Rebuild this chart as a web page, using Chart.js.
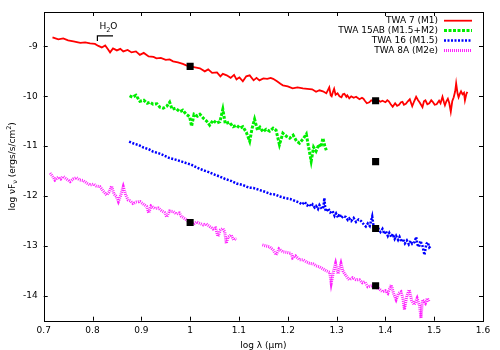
<!DOCTYPE html>
<html>
<head>
<meta charset="utf-8">
<script src="https://cdn.jsdelivr.net/npm/chart.js@4/dist/chart.umd.min.js"></script>
<style>
html,body{margin:0;padding:0;background:#fff;}
#wrap{width:500px;height:350px;position:relative;}
</style>
</head>
<body>
<div id="wrap"><canvas id="c" width="500" height="350"></canvas></div>
<script>
// ---------- data ----------
const seriesLabels = ['TWA 7 (M1)', 'TWA 15AB (M1.5+M2)', 'TWA 16 (M1.5)', 'TWA 8A (M2e)'];

const twa7X = [0.718,0.73,0.74,0.75,0.761,0.775,0.785,0.795,0.805,0.812,0.819,0.826,0.832,0.836,0.842,0.85,0.857,0.863,0.872,0.88,0.889,0.897,0.905,0.915,0.925,0.931,0.94,0.95,0.958,0.965,0.975,0.985,0.992,1.0,1.01,1.02,1.03,1.037,1.045,1.055,1.062,1.067,1.075,1.083,1.09,1.095,1.101,1.108,1.115,1.122,1.13,1.136,1.142,1.15,1.158,1.165,1.17,1.178,1.185,1.19,1.2,1.21,1.22,1.231,1.24,1.25,1.258,1.265,1.272,
  1.279,1.282,1.285,1.288,1.29,1.293,1.295,1.298,1.302,1.306,1.31,1.313,1.316,1.32,1.322,1.326,1.33,1.335,1.34,1.347,1.352,1.355,1.358,1.362,1.367,1.371,1.375,1.38,1.385,1.39,1.394,1.4,1.404,1.407,1.411,1.415,1.42,1.424,1.428,1.432,1.435,1.438,1.442,1.446,1.45,1.455,1.459,1.463,1.467,1.47,1.476,1.479,1.482,1.486,1.49,1.494,1.497,1.501,1.505,1.51,1.513,1.517,1.52,1.522,1.525,1.528,1.531,1.534,1.537,1.54,1.543,1.545,1.548,1.55,1.553,1.555,1.558,1.561,1.563,1.566,1.568];
const twa7Y = [-8.82,-8.86,-8.84,-8.88,-8.9,-8.93,-8.92,-8.94,-8.95,-8.99,-9.02,-8.98,-9.06,-9.12,-9.04,-9.08,-9.05,-9.1,-9.07,-9.12,-9.1,-9.17,-9.13,-9.2,-9.21,-9.24,-9.23,-9.27,-9.26,-9.3,-9.32,-9.35,-9.38,-9.4,-9.42,-9.44,-9.5,-9.46,-9.53,-9.52,-9.6,-9.55,-9.58,-9.63,-9.57,-9.66,-9.62,-9.7,-9.6,-9.58,-9.68,-9.63,-9.68,-9.64,-9.65,-9.63,-9.65,-9.7,-9.75,-9.78,-9.8,-9.84,-9.82,-9.84,-9.85,-9.86,-9.91,-9.88,-9.9,
  -9.94,-9.88,-9.82,-9.98,-10.0,-9.9,-9.85,-9.97,-9.94,-10.0,-10.02,-9.96,-9.95,-10.01,-9.98,-10.04,-10.0,-10.03,-10.01,-10.06,-10.03,-10.05,-10.09,-10.14,-10.12,-10.08,-10.1,-10.1,-10.08,-10.11,-10.09,-10.12,-10.08,-10.1,-10.16,-10.21,-10.14,-10.19,-10.17,-10.12,-10.11,-10.17,-10.15,-10.1,-10.06,-10.2,-10.1,-10.01,-10.08,-10.12,-10.22,-10.1,-10.08,-10.16,-10.14,-10.08,-10.11,-10.17,-10.16,-10.09,-10.14,-10.01,-10.12,-10.18,-10.1,-10.05,-10.14,-10.31,-10.1,-10.02,-9.9,-9.74,-9.95,-10.02,-9.94,-9.9,-9.96,-9.93,-10.08,-9.95,-9.91];

const twa15X = [0.876,0.882,0.889,0.897,0.905,0.912,0.918,0.924,0.932,0.938,0.945,0.952,0.958,0.963,0.97,0.979,0.985,0.992,0.999,1.003,1.008,1.015,1.02,1.028,1.034,1.04,1.047,1.054,1.061,1.067,1.072,1.08,1.088,1.095,1.102,1.108,1.115,1.122,1.127,1.132,1.138,1.143,1.149,1.156,1.163,1.17,1.176,1.183,1.19,1.197,1.204,1.211,1.218,1.224,1.231,1.238,1.242,1.248,1.253,1.258,1.264,1.268,1.272,1.276,1.279];
const twa15Y = [-9.99,-10.02,-9.98,-10.1,-10.08,-10.14,-10.12,-10.16,-10.15,-10.22,-10.24,-10.2,-10.12,-10.26,-10.24,-10.31,-10.28,-10.36,-10.41,-10.6,-10.36,-10.4,-10.36,-10.45,-10.5,-10.58,-10.48,-10.54,-10.51,-10.26,-10.55,-10.52,-10.61,-10.58,-10.64,-10.61,-10.72,-10.9,-10.64,-10.46,-10.68,-10.62,-10.71,-10.66,-10.7,-10.64,-10.68,-10.97,-10.74,-10.8,-10.84,-10.78,-10.9,-10.94,-10.86,-10.76,-10.98,-11.3,-11.02,-11.1,-10.96,-11.02,-10.84,-11.0,-11.08];

const twa16X = [0.875,0.885,0.895,0.905,0.915,0.924,0.935,0.945,0.958,0.97,0.98,0.992,1.002,1.014,1.026,1.038,1.05,1.061,1.072,1.085,1.095,1.108,1.12,1.13,1.142,1.155,1.165,1.175,1.183,1.195,1.205,1.215,
  1.224,1.229,1.235,1.24,1.244,1.248,1.251,1.255,1.258,1.262,1.265,1.27,1.273,1.275,1.277,1.279,1.283,1.287,1.292,1.296,1.299,1.303,1.306,1.31,1.314,1.319,1.323,1.326,1.33,1.335,1.34,1.345,1.35,1.355,1.36,1.364,1.368,1.373,1.376,1.38,1.385,1.39,1.394,1.398,1.401,1.405,1.408,1.412,1.415,1.419,1.422,1.426,1.429,1.433,1.436,1.44,1.444,1.448,1.452,1.455,1.46,1.463,1.466,1.469,1.472,1.476,1.48,1.484,1.487,1.49,1.493];
const twa16Y = [-10.91,-10.95,-10.98,-11.03,-11.06,-11.11,-11.14,-11.18,-11.24,-11.27,-11.3,-11.34,-11.37,-11.43,-11.48,-11.52,-11.57,-11.61,-11.66,-11.7,-11.75,-11.78,-11.83,-11.84,-11.88,-11.92,-11.96,-11.97,-12.01,-12.04,-12.06,-12.1,
  -12.13,-12.17,-12.12,-12.19,-12.16,-12.21,-12.17,-12.23,-12.2,-12.26,-12.18,-12.26,-12.22,-12.04,-12.27,-12.31,-12.25,-12.33,-12.3,-12.4,-12.35,-12.43,-12.36,-12.44,-12.4,-12.42,-12.48,-12.45,-12.5,-12.44,-12.52,-12.47,-12.5,-12.56,-12.61,-12.55,-12.6,-12.41,-12.62,-12.68,-12.64,-12.72,-12.66,-12.76,-12.7,-12.8,-12.74,-12.82,-12.76,-12.86,-12.8,-12.88,-12.82,-12.92,-12.86,-12.95,-12.89,-12.97,-12.9,-12.96,-12.92,-12.82,-12.98,-13.02,-12.9,-13.0,-13.18,-12.96,-12.93,-13.03,-13.0];

// null marks the gap between the two observed bands
const twa8X = [0.713,0.718,0.723,0.73,0.735,0.74,0.747,0.754,0.76,0.767,0.774,0.781,0.788,0.795,0.802,0.808,0.815,0.822,0.829,0.834,0.839,0.844,0.849,0.853,0.858,0.863,0.868,0.873,0.878,0.883,0.89,0.897,0.904,0.911,0.915,0.92,0.928,0.935,0.942,0.948,0.952,0.958,0.965,0.972,0.978,0.982,0.99,0.999,1.006,1.013,1.02,1.027,1.033,1.04,1.047,1.052,1.057,1.062,1.067,1.071,1.074,1.078,1.084,1.089,1.095,1.12,1.148,1.155,1.163,1.17,1.176,1.182,1.19,1.198,1.207,1.21,1.216,1.224,1.232,1.238,1.245,1.252,1.258,1.265,1.272,1.279,1.286,1.289,1.294,1.298,1.303,1.309,1.313,1.316,1.321,1.326,1.333,1.34,1.347,1.353,1.358,1.364,1.372,1.38,1.387,1.394,1.4,1.405,1.412,1.417,1.422,1.427,1.432,1.436,1.439,1.444,1.449,1.454,1.459,1.465,1.47,1.473,1.476,1.482,1.486,1.49];
const twa8Y = [-11.54,-11.6,-11.68,-11.62,-11.66,-11.61,-11.66,-11.71,-11.66,-11.63,-11.68,-11.69,-11.74,-11.78,-11.76,-11.8,-11.81,-11.9,-11.98,-11.92,-11.8,-11.96,-12.01,-12.11,-11.98,-11.81,-11.98,-12.08,-12.1,-12.15,-12.12,-12.11,-12.16,-12.21,-12.34,-12.2,-12.25,-12.24,-12.3,-12.33,-12.42,-12.3,-12.31,-12.36,-12.34,-12.41,-12.46,-12.53,-12.57,-12.52,-12.55,-12.58,-12.56,-12.61,-12.66,-12.64,-12.81,-12.68,-12.65,-12.72,-12.95,-12.82,-12.78,-12.88,-12.85,null,-12.98,-13.0,-13.02,-13.08,-13.18,-13.06,-13.12,-13.13,-13.15,-13.24,-13.2,-13.28,-13.28,-13.32,-13.35,-13.36,-13.4,-13.42,-13.46,-13.5,-13.53,-13.75,-13.5,-13.35,-13.56,-13.35,-13.5,-13.55,-13.62,-13.68,-13.64,-13.68,-13.68,-13.74,-13.72,-13.82,-13.8,-13.83,-13.86,-13.92,-13.9,-13.95,-13.78,-13.96,-14.08,-13.95,-13.92,-14.05,-14.28,-14.0,-13.88,-14.1,-14.18,-14.05,-14.2,-14.45,-14.08,-14.15,-14.05,-14.12];

const photX = [1.0, 1.38, 1.38, 1.0, 1.38, 1.38];
const photY = [-9.40, -10.09, -11.31, -12.53, -12.65, -13.80];

const xTickValues = [0.7,0.8,0.9,1.0,1.1,1.2,1.3,1.4,1.5,1.6];
const xTickLabels = ['0.7','0.8','0.9','1','1.1','1.2','1.3','1.4','1.5','1.6'];
const yTickValues = [-9,-10,-11,-12,-13,-14];
const yTickLabels = ['-9','-10','-11','-12','-13','-14'];

// H2O band marker (data units)
const h2oStart = 0.81, h2oEnd = 0.842, h2oLevel = -8.79, h2oFoot = -8.89, h2oTextY = -8.655;

// ---------- helpers ----------
function pts(xs, ys){ return xs.map((x,i)=>({x:x, y:ys[i]})); }
const FONT = '"DejaVu Sans", "Liberation Sans", Arial, sans-serif';

const styles = [
  {color:'#ff0000', width:1.8, dash:[]},
  {color:'#00ee00', width:3, dash:[3,1.5]},
  {color:'#0000ff', width:2.5, dash:[2,1.5]},
  {color:'#ff22ff', width:3, dash:[1,1]}
];
const seriesData = [pts(twa7X,twa7Y), pts(twa15X,twa15Y), pts(twa16X,twa16Y), pts(twa8X,twa8Y)];

const datasets = seriesData.map((d,i)=>({
  label: seriesLabels[i],
  data: d,
  showLine: true,
  spanGaps: false,
  borderColor: styles[i].color,
  backgroundColor: styles[i].color,
  borderWidth: styles[i].width,
  borderDash: styles[i].dash,
  pointRadius: 0,
  pointHoverRadius: 0,
  tension: 0,
  order: 4 - i
}));
datasets.push({
  label: '',
  data: pts(photX, photY),
  showLine: false,
  pointStyle: 'rect',
  pointRadius: 5,
  backgroundColor: '#000',
  borderColor: '#000',
  borderWidth: 0,
  order: -1
});

// ---------- custom drawing ----------
const decor = {
  id: 'decor',
  afterDraw(chart){
    const ctx = chart.ctx, a = chart.chartArea;
    const xs = chart.scales.x, ys = chart.scales.y;
    ctx.save();
    // frame
    ctx.strokeStyle = '#000'; ctx.lineWidth = 1;
    ctx.strokeRect(Math.round(a.left)+0.5, Math.round(a.top)+0.5, Math.round(a.right-a.left), Math.round(a.bottom-a.top));
    // inward ticks on all sides
    const tl = 4;
    ctx.beginPath();
    xTickValues.forEach(v=>{
      const px = Math.round(xs.getPixelForValue(v))+0.5;
      ctx.moveTo(px, a.bottom); ctx.lineTo(px, a.bottom - tl);
      ctx.moveTo(px, a.top); ctx.lineTo(px, a.top + tl);
    });
    yTickValues.forEach(v=>{
      const py = Math.round(ys.getPixelForValue(v))+0.5;
      ctx.moveTo(a.left, py); ctx.lineTo(a.left + tl, py);
      ctx.moveTo(a.right, py); ctx.lineTo(a.right - tl, py);
    });
    ctx.stroke();

    // legend
    ctx.font = '9px ' + FONT;
    ctx.textAlign = 'right'; ctx.textBaseline = 'middle';
    seriesLabels.forEach((lab,i)=>{
      const yy = a.top + 8.7 + i*9.9;
      ctx.fillStyle = '#000';
      ctx.fillText(lab, a.right - 45, yy);
      ctx.save();
      ctx.strokeStyle = styles[i].color; ctx.lineWidth = styles[i].width;
      ctx.setLineDash(styles[i].dash);
      ctx.beginPath(); ctx.moveTo(a.right - 39, yy); ctx.lineTo(a.right - 11, yy); ctx.stroke();
      ctx.restore();
    });

    // H2O marker
    const bx0 = xs.getPixelForValue(h2oStart), bx1 = xs.getPixelForValue(h2oEnd);
    const by = ys.getPixelForValue(h2oLevel), byf = ys.getPixelForValue(h2oFoot);
    ctx.strokeStyle = '#000'; ctx.lineWidth = 1.2; ctx.setLineDash([]);
    ctx.beginPath(); ctx.moveTo(bx0, byf); ctx.lineTo(bx0, by); ctx.lineTo(bx1, by); ctx.stroke();
    const ty = ys.getPixelForValue(h2oTextY);
    let tx = bx0 + 2;
    ctx.textAlign = 'left'; ctx.textBaseline = 'alphabetic'; ctx.fillStyle = '#000';
    ctx.font = '9px ' + FONT; ctx.fillText('H', tx, ty); tx += ctx.measureText('H').width;
    ctx.font = '6.5px ' + FONT; ctx.fillText('2', tx, ty + 2.5); tx += ctx.measureText('2').width;
    ctx.font = '9px ' + FONT; ctx.fillText('O', tx, ty);

    // x axis title
    ctx.font = '9px ' + FONT; ctx.textAlign = 'center'; ctx.textBaseline = 'alphabetic';
    ctx.fillText('log \u03BB (\u00B5m)', (a.left + a.right)/2, 348);

    // y axis title (rotated, with sub/superscripts)
    const parts = [
      {t:'log \u03BDF', s:9, dy:0},
      {t:'\u03BD', s:6.5, dy:2.5},
      {t:' (ergs/s/cm', s:9, dy:0},
      {t:'2', s:6.5, dy:-4},
      {t:')', s:9, dy:0}
    ];
    let total = 0;
    parts.forEach(p=>{ ctx.font = p.s + 'px ' + FONT; p.w = ctx.measureText(p.t).width; total += p.w; });
    ctx.translate(14.5, (a.top + a.bottom)/2);
    ctx.rotate(-Math.PI/2);
    ctx.textAlign = 'left';
    let cx = -total/2;
    parts.forEach(p=>{ ctx.font = p.s + 'px ' + FONT; ctx.fillText(p.t, cx, p.dy); cx += p.w; });
    ctx.restore();
  }
};

new Chart(document.getElementById('c'), {
  type: 'scatter',
  data: { datasets: datasets },
  options: {
    responsive: false,
    animation: false,
    devicePixelRatio: 1,
    layout: { padding: { left: 0, top: 12, right: 17, bottom: 0 } },
    plugins: { legend: { display: false }, tooltip: { enabled: false } },
    scales: {
      x: {
        type: 'linear', min: 0.7, max: 1.6,
        afterBuildTicks: s => { s.ticks = xTickValues.map(v=>({value:v})); },
        afterFit: s => { s.height = 29.3; },
        grid: { display: false, drawTicks: false },
        border: { display: false },
        ticks: {
          padding: 5, color: '#000', font: { family: FONT, size: 9 },
          maxRotation: 0, autoSkip: false,
          callback: (v, i) => xTickLabels[i]
        }
      },
      y: {
        type: 'linear', min: -14.5, max: -8.31,
        afterBuildTicks: s => { s.ticks = yTickValues.map(v=>({value:v})); },
        afterFit: s => { s.width = 43.7; },
        grid: { display: false, drawTicks: false },
        border: { display: false },
        ticks: {
          padding: 6, color: '#000', font: { family: FONT, size: 9 },
          autoSkip: false,
          callback: (v, i) => yTickLabels[i]
        }
      }
    }
  },
  plugins: [decor]
});
</script>
</body>
</html>
